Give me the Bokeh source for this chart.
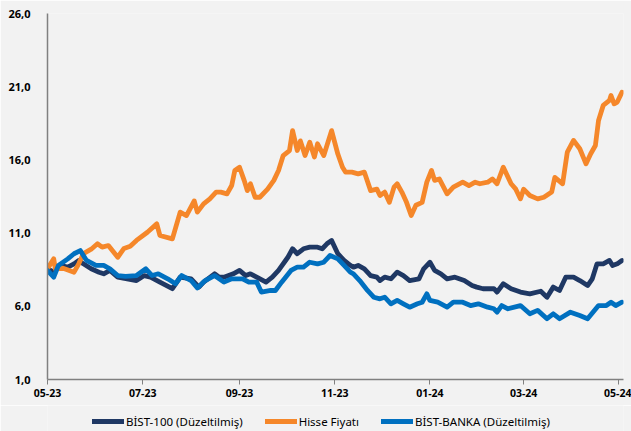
import pandas as pd
from bokeh.plotting import figure
from bokeh.layouts import column
from bokeh.models import Range1d, FixedTicker, DatetimeTickFormatter, Legend, LegendItem, ColumnDataSource
from bokeh.embed import file_html
from bokeh.resources import INLINE

start_date = "2023-05-01"
end_date = "2024-05-04"

# Days since 2023-05-01 and values
bist100_days = [0, 4, 8, 13, 17, 20, 23, 28, 33, 36, 40, 45, 51, 57, 62, 66, 72, 80, 85, 92, 97, 100,
                107, 110, 113, 119, 123, 127, 130, 134, 140, 144, 148, 154, 157, 160, 164, 168, 173,
                176, 179, 182, 186, 190, 194, 196, 199, 203, 207, 211, 213, 216, 220, 224, 228, 232,
                238, 241, 245, 248, 252, 256, 261, 267, 272, 275, 279, 286, 288, 292, 297, 303, 309,
                316, 320, 324, 328, 332, 337, 341, 346, 349, 352, 356, 360, 362, 365, 368]
bist100 = [8.56, 8.35, 8.79, 8.67, 8.90, 9.13, 8.90, 8.56, 8.33, 8.22, 8.45, 7.99, 7.88, 7.76, 8.10,
           7.99, 7.65, 7.20, 7.99, 7.88, 7.31, 7.65, 8.22, 7.99, 7.99, 8.22, 8.45, 8.10, 8.22, 7.99,
           7.65, 7.99, 8.45, 9.35, 9.93, 9.59, 9.93, 10.04, 10.04, 9.93, 10.27, 10.50, 9.59, 9.13,
           8.79, 8.67, 8.79, 8.56, 8.10, 7.99, 7.76, 7.99, 7.88, 8.33, 8.10, 7.76, 7.88, 8.56, 9.01,
           8.45, 8.22, 7.88, 7.99, 7.76, 7.42, 7.31, 7.20, 7.20, 6.97, 7.54, 7.20, 6.97, 6.85, 7.03,
           6.62, 7.31, 7.08, 7.99, 7.99, 7.76, 7.42, 7.88, 8.90, 8.90, 9.13, 8.79, 8.90, 9.13]

hisse_days = [0, 4, 5, 10, 17, 20, 23, 28, 32, 35, 39, 45, 49, 53, 57, 64, 70, 72, 80, 85, 89, 94,
              96, 100, 104, 108, 111, 115, 118, 120, 123, 126, 128, 130, 133, 136, 141, 145, 148,
              151, 155, 157, 160, 162, 165, 168, 171, 173, 177, 182, 186, 189, 191, 195, 199, 203,
              207, 211, 213, 216, 219, 222, 224, 227, 230, 233, 236, 240, 243, 246, 248, 251, 256,
              260, 266, 270, 274, 277, 282, 285, 288, 292, 297, 300, 303, 305, 309, 314, 318, 323,
              325, 330, 333, 337, 341, 345, 348, 351, 353, 356, 360, 361, 363, 365, 368]
hisse = [8.56, 9.24, 8.56, 8.60, 8.33, 8.90, 9.60, 9.90, 10.27, 10.04, 10.15, 9.35, 9.95, 10.10,
         10.50, 11.06, 11.63, 10.84, 10.61, 12.43, 12.20, 13.20, 12.43, 13.00, 13.34, 13.80, 13.80,
         13.68, 14.25, 15.28, 15.50, 14.60, 13.90, 14.37, 13.45, 13.45, 14.00, 14.60, 15.28, 16.30,
         16.64, 18.00, 16.64, 17.30, 16.30, 17.20, 16.20, 17.10, 16.30, 18.00, 16.40, 15.50, 15.16,
         15.16, 15.05, 15.16, 13.90, 14.00, 13.57, 13.80, 13.10, 14.14, 14.37, 13.80, 13.10, 12.20,
         12.90, 13.10, 14.48, 15.28, 14.60, 14.70, 13.68, 14.14, 14.48, 14.25, 14.48, 14.37, 14.48,
         14.70, 14.37, 15.50, 14.37, 14.00, 13.34, 14.00, 13.57, 13.34, 13.45, 13.80, 14.80, 14.37,
         16.53, 17.33, 16.76, 15.73, 16.42, 16.98, 18.69, 19.72, 20.06, 20.40, 19.83, 19.95, 20.62]

banka_days = [0, 4, 7, 13, 17, 21, 25, 31, 36, 40, 45, 50, 57, 63, 67, 71, 77, 82, 86, 92, 96, 101,
              107, 113, 118, 125, 129, 134, 137, 143, 146, 150, 156, 160, 164, 168, 173, 177, 181,
              186, 190, 194, 196, 200, 205, 209, 213, 216, 220, 224, 228, 232, 237, 240, 243, 245,
              250, 256, 260, 266, 271, 276, 282, 286, 288, 291, 295, 303, 309, 314, 320, 324, 328,
              335, 341, 346, 353, 358, 361, 364, 368]
banka = [8.45, 7.99, 8.79, 9.24, 9.59, 9.81, 9.13, 8.79, 8.79, 8.56, 8.10, 8.04, 8.10, 8.56, 8.10,
         8.22, 7.88, 7.54, 8.10, 7.76, 7.25, 7.76, 8.10, 7.65, 7.88, 7.88, 7.65, 7.65, 6.97, 7.08,
         7.08, 7.65, 8.45, 8.67, 8.67, 9.01, 8.90, 9.01, 9.47, 9.24, 8.79, 8.33, 8.22, 7.76, 7.08,
         6.62, 6.51, 6.62, 6.17, 6.40, 6.17, 5.94, 6.17, 6.28, 6.85, 6.40, 6.28, 5.94, 6.28, 6.28,
         6.05, 6.17, 5.94, 5.83, 5.60, 6.05, 5.83, 6.05, 5.49, 5.72, 5.15, 5.49, 5.15, 5.60, 5.37,
         5.15, 6.05, 6.05, 6.28, 6.05, 6.28]

y_ticks = [1, 6, 11, 16, 21, 26]
y_tick_labels = ["1,0", "6,0", "11,0", "16,0", "21,0", "26,0"]
x_tick_dates = ["2023-05-01", "2023-07-01", "2023-09-01", "2023-11-01", "2024-01-01", "2024-03-01", "2024-05-01"]

series_names = ["BİST-100 (Düzeltilmiş)", "Hisse Fiyatı", "BİST-BANKA (Düzeltilmiş)"]
series_colors = ["#1F3864", "#F5872A", "#0070C0"]

BG = "#F2F2F2"
t0 = pd.Timestamp(start_date)


def to_dates(days):
    return [t0 + pd.Timedelta(days=d) for d in days]


def ms(ts):
    return pd.Timestamp(ts).value / 1e6


p = figure(width=631, height=405, x_axis_type="datetime",
           x_range=Range1d(ms(start_date), ms(end_date)), y_range=Range1d(1, 26),
           output_backend="svg", toolbar_location=None,
           background_fill_color=BG, border_fill_color=BG,
           min_border_left=47, min_border_right=8, min_border_top=13, min_border_bottom=26)
p.outline_line_color = None
p.xgrid.visible = False
p.ygrid.visible = False

for days, vals, color in [(bist100_days, bist100, series_colors[0]),
                          (hisse_days, hisse, series_colors[1]),
                          (banka_days, banka, series_colors[2])]:
    src = ColumnDataSource(dict(x=to_dates(days), y=vals))
    p.line("x", "y", source=src, line_color=color, line_width=4.8, line_join="round", line_cap="round")

# y axis
p.yaxis.ticker = FixedTicker(ticks=y_ticks)
p.yaxis.major_label_overrides = {t: l for t, l in zip(y_ticks, y_tick_labels)}
p.yaxis.axis_line_color = "#808080"
p.yaxis.axis_line_width = 1.5
p.yaxis.major_tick_line_color = None
p.yaxis.minor_tick_line_color = None
p.yaxis.major_label_standoff = 11
p.yaxis.major_label_text_font = "Open Sans"
p.yaxis.major_label_text_font_style = "bold"
p.yaxis.major_label_text_font_size = "11px"
p.yaxis.major_label_text_color = "#000000"

# x axis
p.xaxis.ticker = FixedTicker(ticks=[ms(d) for d in x_tick_dates])
fmt = "%m-%y"
p.xaxis.formatter = DatetimeTickFormatter(microseconds=fmt, milliseconds=fmt, seconds=fmt, minsec=fmt,
                                          minutes=fmt, hourmin=fmt, hours=fmt, days=fmt, months=fmt, years=fmt)
p.xaxis.axis_line_color = "#808080"
p.xaxis.axis_line_width = 1.5
p.xaxis.major_tick_line_color = "#808080"
p.xaxis.major_tick_out = 5
p.xaxis.major_tick_in = 0
p.xaxis.minor_tick_line_color = None
p.xaxis.major_label_standoff = 4
p.xaxis.major_label_text_font = "Open Sans"
p.xaxis.major_label_text_font_style = "bold"
p.xaxis.major_label_text_font_size = "10.5px"
p.xaxis.major_label_text_color = "#000000"

# legend strip below the chart
lg = figure(width=631, height=26, output_backend="svg", toolbar_location=None,
            x_range=Range1d(0, 1), y_range=Range1d(0, 1),
            x_axis_location=None, y_axis_location=None,
            background_fill_color=BG, border_fill_color=BG,
            min_border=0, min_border_left=0, min_border_right=0, min_border_top=0, min_border_bottom=0)
lg.grid.visible = False
lg.outline_line_color = None
items = []
for name, color in zip(series_names, series_colors):
    r = lg.line(x=[-5, -4], y=[-5, -4], line_color=color, line_width=5, line_cap="round")
    items.append(LegendItem(label=name, renderers=[r]))
legend = Legend(items=items, orientation="horizontal", location=(45, 1),
                background_fill_alpha=0, border_line_color=None,
                label_text_font="Noto Sans", label_text_font_size="11.5px", label_text_color="#000000",
                glyph_width=32, glyph_height=18, label_standoff=2, spacing=22, padding=4, margin=0)
lg.add_layout(legend)

layout = column(p, lg, spacing=0)
open("out.html", "w").write(file_html(layout, INLINE))
